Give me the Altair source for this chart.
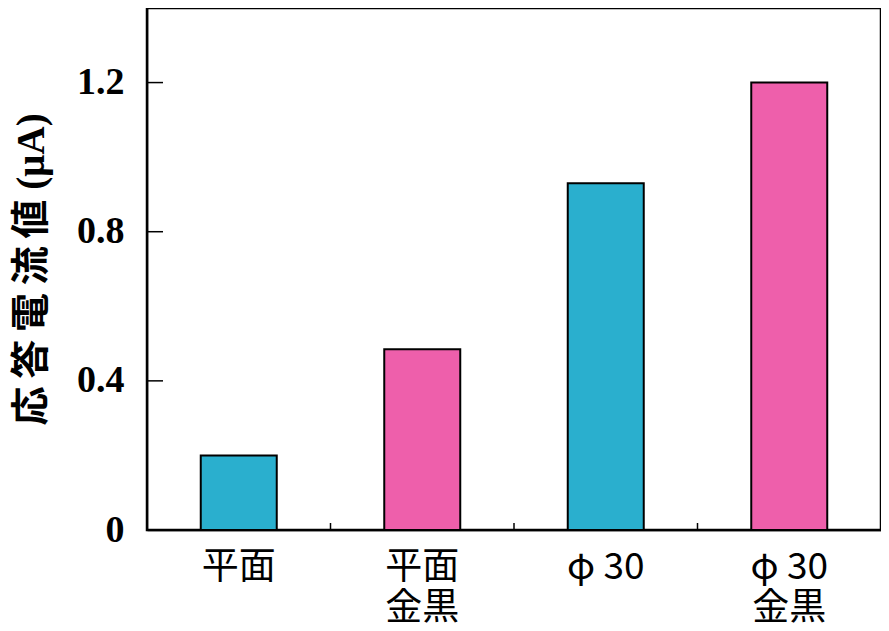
import altair as alt
import pandas as pd

categories = ["平面", "平面\n金黒", "φ 30", "φ 30\n金黒"]
values = [0.20, 0.485, 0.93, 1.20]
colors = ["#2aafce", "#ee5fab", "#2aafce", "#ee5fab"]
y_ticks = [0, 0.4, 0.8, 1.2]
boundaries = categories[1:]
y_title = "応\u2009答\u2009電\u2009流\u2009値 (μA)"

W, H = 734, 522

df = pd.DataFrame({"cat": categories, "val": values, "color": colors})
ticks_df = pd.DataFrame({"t": y_ticks})
bnd_df = pd.DataFrame({"cat": boundaries})

xscale = alt.Scale(domain=categories, paddingInner=0, paddingOuter=0)
yscale = alt.Scale(domain=[0, 1.4], nice=False, zero=True)

xaxis = alt.Axis(title=None, labelAngle=0, ticks=False,
                 labelExpr="split(datum.label, '\\n')",
                 labelFont="Noto Sans CJK JP", labelFontSize=37,
                 labelColor="black", labelPadding=19, labelLineHeight=41,
                 domainColor="black", domainWidth=1.5)
yaxis = alt.Axis(title=y_title, values=y_ticks, ticks=False, grid=False,
                 labelFont="Liberation Serif", labelFontWeight="bold",
                 labelFontSize=38, labelColor="black", labelPadding=23,
                 labelExpr="datum.value == 0 ? '0' : format(datum.value, '.1f')",
                 titleFont="Liberation Serif, Noto Sans CJK JP",
                 titleFontWeight="bold", titleFontSize=39, titleColor="black",
                 titlePadding=25, domainColor="black", domainWidth=1.5)

bars = alt.Chart(df).mark_bar(size=76, stroke="black", strokeWidth=2).encode(
    x=alt.X("cat:N", sort=categories, scale=xscale, axis=xaxis),
    y=alt.Y("val:Q", scale=yscale, axis=yaxis),
    color=alt.Color("color:N", scale=None),
)

ytick_rules = alt.Chart(ticks_df).mark_rule(color="black", strokeWidth=1.5).encode(
    y=alt.Y("t:Q", scale=yscale, axis=yaxis),
    x=alt.value(0),
    x2=alt.value(16),
)

xtick_rules = alt.Chart(bnd_df).mark_rule(color="black", strokeWidth=1.5).encode(
    x=alt.X("cat:N", sort=categories, scale=xscale, axis=xaxis, bandPosition=0),
    y=alt.value(H - 7),
    y2=alt.value(H),
)

chart = alt.layer(bars, ytick_rules, xtick_rules).properties(
    width=W, height=H,
    autosize=alt.AutoSizeParams(type="none"),
    padding={"left": 139, "top": 0, "right": 0, "bottom": 101},
).configure_view(stroke="black", strokeWidth=2.5)

chart.save("out.html", embed_options={"renderer": "svg", "actions": False})
